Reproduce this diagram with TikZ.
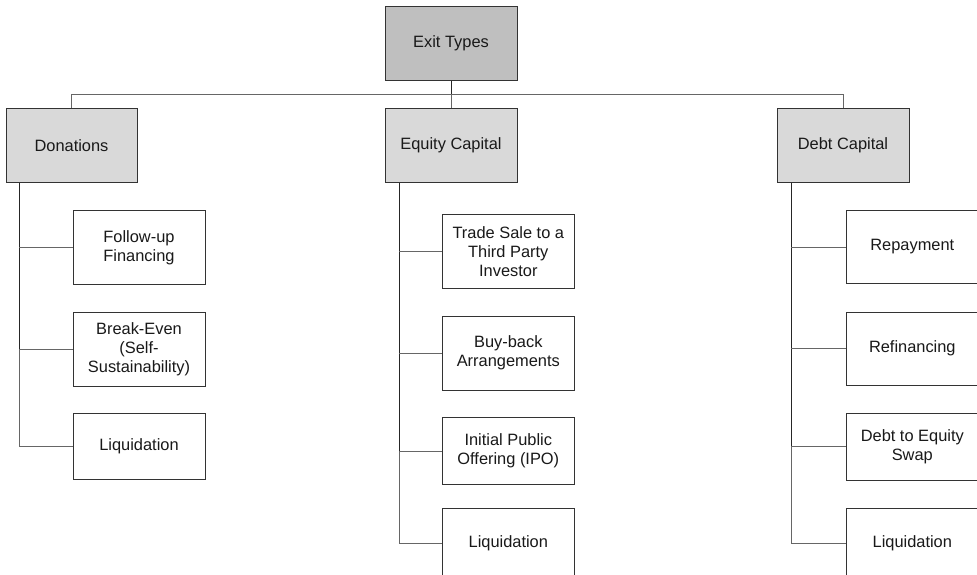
\documentclass[tikz,border=0pt]{standalone}
\usepackage{fontspec}
\setmainfont{Liberation Sans}
\begin{document}
\begin{tikzpicture}[x=1pt,y=-1pt,
  box/.style={draw=black!80, line width=0.9pt, inner sep=0pt, align=center,
    text=black!90, font=\fontsize{16.4}{18.9}\selectfont,
    minimum width=132pt, minimum height=73.5pt},
  rootbox/.style={box, fill=black!25},
  groupbox/.style={box, fill=black!15},
  leafbox/.style={box, fill=white},
  short/.style={minimum height=66.5pt},
  tail/.style={minimum height=70pt},
  trunk/.style={draw=black!85, line width=1pt},
  branch/.style={draw=black!60, line width=0.9pt}]
\useasboundingbox (0,0) rectangle (977,574);

% top level
\node[rootbox] (root) at (451,43.5) {Exit Types};

% groups
\node[groupbox, minimum width=131pt] (don) at (71.5,145.5) {Donations};
\node[groupbox] (eq) at (451,145.5) {Equity Capital};
\node[groupbox] (debt) at (843,145.5) {Debt Capital};

% donations leaves
\node[leafbox] (d1) at (139,247.5) {Follow-up\\Financing};
\node[leafbox] (d2) at (139,349.2) {Break-Even\\(Self-\\Sustainability)};
\node[leafbox, short] (d3) at (139,446.3) {Liquidation};

% equity leaves
\node[leafbox, minimum height=74pt] (e1) at (508.3,251.3) {Trade Sale to a\\Third Party\\Investor};
\node[leafbox, minimum height=74pt] (e2) at (508.3,353) {Buy-back\\Arrangements};
\node[leafbox, short] (e3) at (508.3,451) {Initial Public\\Offering (IPO)};
\node[leafbox, tail] (e4) at (508.3,543.3) {Liquidation};

% debt leaves
\node[leafbox] (r1) at (912.3,247) {Repayment};
\node[leafbox] (r2) at (912.3,348.7) {Refinancing};
\node[leafbox, short] (r3) at (912.3,446.7) {Debt to Equity\\Swap};
\node[leafbox, tail] (r4) at (912.3,543.3) {Liquidation};

% root to groups
\coordinate (bus) at (451,94.3);
\draw[trunk] (root.south) -- (bus);
\draw[branch] (bus) -| (don.north);
\draw[branch] (bus) -| (debt.north);
\draw[branch] (bus) -- (eq.north);

% group trunks
\draw[trunk] (don.south -| 19,0) -- (19,349.2);
\draw[branch] (19,349.2) |- (d3.west);
\draw[branch] (d1.west) -- (d1.west -| 19,0);
\draw[branch] (d2.west) -- (d2.west -| 19,0);

\draw[trunk] (eq.south -| 399,0) -- (399,451);
\draw[branch] (399,451) |- (e4.west);
\draw[branch] (e1.west) -- (e1.west -| 399,0);
\draw[branch] (e2.west) -- (e2.west -| 399,0);
\draw[branch] (e3.west) -- (e3.west -| 399,0);

\draw[trunk] (debt.south -| 791,0) -- (791,446.7);
\draw[branch] (791,446.7) |- (r4.west);
\draw[branch] (r1.west) -- (r1.west -| 791,0);
\draw[branch] (r2.west) -- (r2.west -| 791,0);
\draw[branch] (r3.west) -- (r3.west -| 791,0);
\end{tikzpicture}
\end{document}
